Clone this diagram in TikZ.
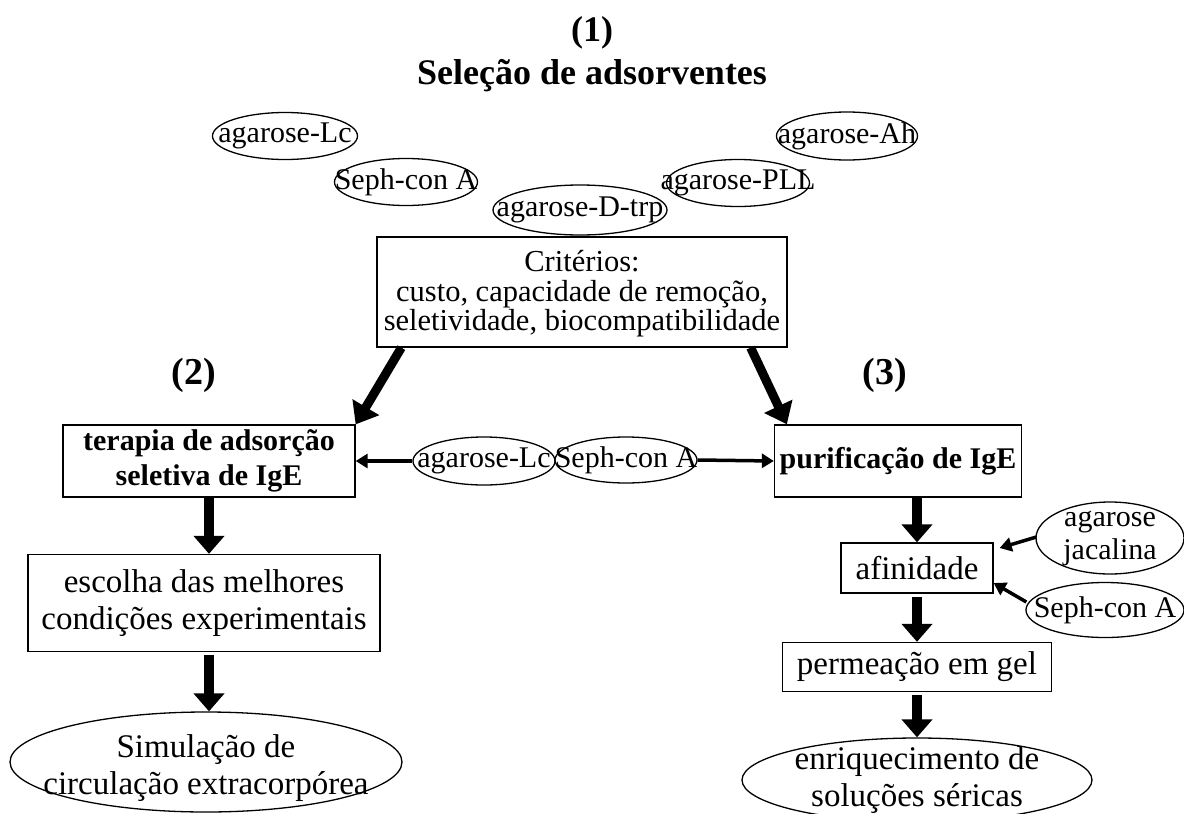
\documentclass[tikz,border=0pt]{standalone}
\usepackage{fontspec}
\setmainfont{Liberation Serif}
\usetikzlibrary{shapes.geometric,arrows.meta,calc}
\tikzset{
  box/.style={draw, line width=1.3pt, rectangle, inner sep=0pt, align=center},
  ell/.style={draw, line width=1.3pt, ellipse, inner sep=0pt},
  txt/.style={inner sep=0pt, align=center, font=\fontsize{33}{37}\selectfont},
  lbl/.style={inner sep=0pt, align=center, font=\fontsize{30}{33}\selectfont},
  smalltxt/.style={inner sep=0pt, align=center, font=\fontsize{30.5}{29.5}\selectfont},
  boldtxt/.style={inner sep=0pt, align=center, font=\fontsize{30}{35}\selectfont\bfseries},
  numlab/.style={inner sep=0pt, font=\fontsize{38}{40}\selectfont\bfseries},
  bigarrow/.style={line width=10pt, -{Triangle[width=30pt,length=18pt]}},
  diagarrow/.style={line width=9pt, -{Triangle[width=30pt,length=20pt]}},
  thinarrow/.style={line width=3.5pt, -{Triangle[width=14pt,length=12pt]}}
}
\begin{document}
\begin{tikzpicture}[x=1pt,y=-1pt]
\useasboundingbox (0,0) rectangle (1184,814);
% title
\node[inner sep=0pt, align=center, font=\fontsize{36}{43}\selectfont\bfseries] (title) at (592,54) {(1)\\Seleção de adsorventes};
% top ellipses
\node[ell, minimum width=145pt, minimum height=47pt] (eLcA) at (285,136) {};
\node[lbl] (eLcAt) at (eLcA) {agarose-Lc};
\node[ell, minimum width=143pt, minimum height=47pt] (eSephA) at (406,182) {};
\node[lbl] (eSephAt) at (eSephA) {Seph-con A};
\node[ell, minimum width=174pt, minimum height=50pt] (eDtrp) at (580,210) {};
\node[lbl] (eDtrpt) at (eDtrp) {agarose-D-trp};
\node[ell, minimum width=143pt, minimum height=47pt] (ePLL) at (738,183) {};
\node[lbl] (ePLLt) at (ePLL) {agarose-PLL};
\node[ell, minimum width=141pt, minimum height=48pt] (eAh) at (847,136) {};
\node[lbl] (eAht) at (eAh) {agarose-Ah};
% criteria
\node[box, minimum width=410pt, minimum height=110pt, fill=white] (crit) at (582,292) {};
\node[smalltxt] (critt) at (582,294) {Critérios:\\custo, capacidade de remoção,\\seletividade, biocompatibilidade};
% labels
\node[numlab] (lab2) at (194,375) {(2)};
\node[numlab] (lab3) at (885,375) {(3)};
% middle row
\node[box, minimum width=292pt, minimum height=72pt] (lbox) at (209,461) {};
\node[boldtxt] (lboxt) at (lbox) {terapia de adsorção\\seletiva de IgE};
\node[ell, minimum width=142pt, minimum height=48pt] (eLcB) at (484,461) {};
\node[lbl] (eLcBt) at (eLcB) {agarose-Lc};
\node[ell, minimum width=142pt, minimum height=46pt] (eSephB) at (626,460) {};
\node[lbl] (eSephBt) at (eSephB) {Seph-con A};
\node[box, minimum width=247pt, minimum height=72pt] (rbox) at (898,461) {};
\node[boldtxt] (rboxt) at (rbox) {purificação de IgE};
% left column
\node[box, minimum width=352pt, minimum height=97pt] (esc) at (204,603) {};
\node[txt] (esct) at (esc) {escolha das melhores\\condições experimentais};
\node[ell, minimum width=392pt, minimum height=100pt] (sim) at (206,762) {};
\node[txt] (simt) at (206,768) {Simulação de\\circulação extracorpórea};
% right column
\node[box, minimum width=152pt, minimum height=50pt] (afin) at (917,568) {};
\node[txt] (afint) at (afin) {afinidade};
\node[ell, minimum width=148pt, minimum height=72pt] (jac) at (1110,538) {};
\node[lbl] (jact) at (jac) {agarose\\jacalina};
\node[ell, minimum width=158pt, minimum height=55pt] (eSephC) at (1105,610) {};
\node[lbl] (eSephCt) at (eSephC) {Seph-con A};
\node[box, minimum width=269pt, minimum height=49pt] (perm) at (917,667) {};
\node[txt] (permt) at (perm) {permeação em gel};
\node[ell, minimum width=350pt, minimum height=84pt] (enr) at (917,780) {};
\node[txt] (enrt) at (917,780) {enriquecimento de\\soluções séricas};
% connectors
\draw[diagarrow] ($(crit.south west)+(25,0)$) -- (lbox.north east);
\draw[diagarrow] ($(crit.south east)+(-37,0)$) -- ($(rbox.north west)+(13,0)$);
\draw[thinarrow] (eLcB.west) -- (lbox.east);
\draw[thinarrow] (eSephB.east) -- (rbox.west);
\draw[bigarrow] (lbox.south) -- (lbox.south |- esc.north);
\draw[bigarrow] ($(lbox.south |- esc.south)+(0,3)$) -- (lbox.south |- sim.north);
\draw[bigarrow] (afin.north |- rbox.south) -- (afin.north);
\draw[bigarrow] ($(afin.south)+(0,3)$) -- (perm.north);
\draw[bigarrow] ($(perm.south)+(0,3)$) -- (enr.north);
\draw[thinarrow] ($(jac.west)+(1,-1)$) -- ($(afin.east)+(6,-20)$);
\draw[thinarrow] ($(eSephC.west)+(1,-8)$) -- ($(afin.east)+(0,15)$);
\end{tikzpicture}
\end{document}
